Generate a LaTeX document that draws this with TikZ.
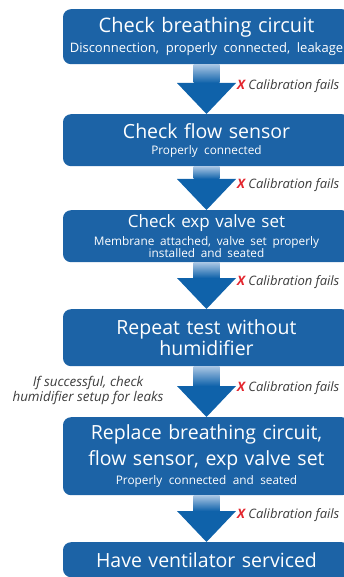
\documentclass[tikz,border=0pt]{standalone}
\usepackage{fontspec}
\setmainfont{Open Sans}
\usetikzlibrary{calc}

\definecolor{boxblue}{HTML}{1C63A6}
\definecolor{arrowblue}{HTML}{0F62AA}
\definecolor{arrowlight}{HTML}{A9C6E4}
\definecolor{failred}{HTML}{E3262E}
\definecolor{notegray}{HTML}{3C3C3C}

\tikzset{
  stepbox/.style={fill=boxblue, rounded corners=8pt, minimum width=287pt, text width=284pt,
    align=center, text=white, inner sep=0pt, anchor=north, font=\fontsize{19.5}{21}\selectfont},
  failnote/.style={anchor=west, inner sep=0pt, text=notegray, font=\fontsize{13}{15}\selectfont\itshape},
}

\newcommand{\boxnote}[2][11.8]{{\fontsize{#1}{12}\selectfont #2\par}}
\newcommand{\flowarrow}[2]{%
  \shade[top color=arrowlight, bottom color=arrowblue] ([xshift=-13pt]#1.south) rectangle ([xshift=13pt,yshift=31pt]#2.north);
  \fill[arrowblue] ([xshift=-29.5pt,yshift=31pt]#2.north) -- ([xshift=29.5pt,yshift=31pt]#2.north) -- (#2.north) -- cycle;
  \node[failnote] (fail-#2) at ($(#1.south)!0.5!(#2.north)+(30.5,-3.5)$) {\textcolor{failred}{\bfseries X} Calibration fails};
}

\begin{document}
\begin{tikzpicture}[x=1pt,y=-1pt]
    \useasboundingbox (0,0) rectangle (344,577);

    \node[stepbox, minimum height=55pt, font=\fontsize{20}{21}\selectfont] (breathing) at (206.5,9) {Check breathing circuit\\[4pt]\boxnote[13]{Disconnection, properly connected, leakage}};
    \node[stepbox, minimum height=52pt] (flowsensor) at (206.5,114) {Check flow sensor\\[4pt]\boxnote{Properly connected}};
    \node[stepbox, minimum height=52pt, font=\fontsize{17}{20}\selectfont] (expvalve) at (206.5,210) {Check exp valve set\\[4.5pt]\boxnote{Membrane attached, valve set properly\\installed and seated}};
    \node[stepbox, minimum height=57pt] (humidifier) at (206.5,309) {Repeat test without\\humidifier};
    \node[stepbox, minimum height=78pt] (replace) at (206.5,417) {Replace breathing circuit,\\[5pt]flow sensor, exp valve set\\[4pt]\boxnote{Properly connected and seated}};
    \node[stepbox, minimum height=35pt] (service) at (206.5,542) {Have ventilator serviced};

    \flowarrow{breathing}{flowsensor}
    \flowarrow{flowsensor}{expvalve}
    \flowarrow{expvalve}{humidifier}
    \flowarrow{humidifier}{replace}
    \flowarrow{replace}{service}

    \node[failnote, anchor=center, align=center, font=\fontsize{13.4}{15}\selectfont\itshape] (leaknote) at (88,390) {If successful, check\\humidifier setup for leaks};
\end{tikzpicture}
\end{document}
